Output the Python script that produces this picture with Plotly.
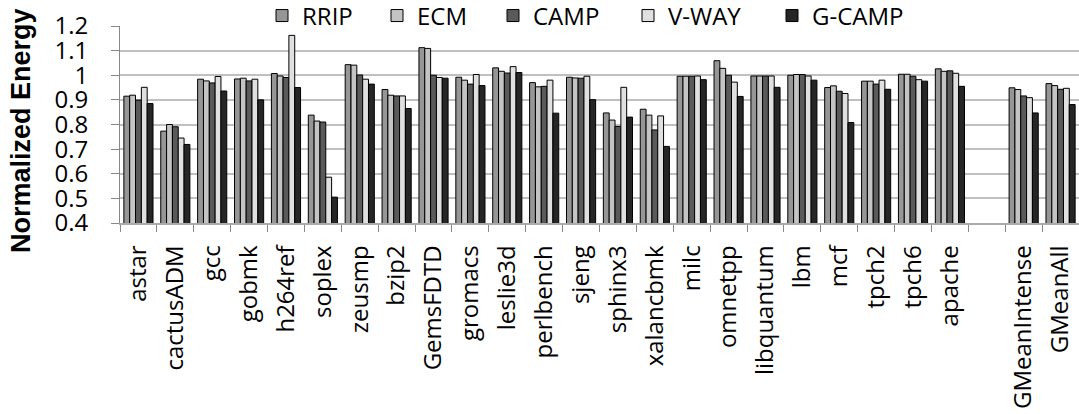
import plotly.graph_objects as go

categories = ["astar", "cactusADM", "gcc", "gobmk", "h264ref", "soplex", "zeusmp", "bzip2",
              "GemsFDTD", "gromacs", "leslie3d", "perlbench", "sjeng", "sphinx3", "xalancbmk",
              "milc", "omnetpp", "libquantum", "lbm", "mcf", "tpch2", "tpch6", "apache", " ",
              "GMeanIntense", "GMeanAll"]

rrip  = [0.915, 0.773, 0.984, 0.985, 1.007, 0.838, 1.043, 0.942, 1.112, 0.992, 1.030, 0.970, 0.992,
         0.847, 0.862, 0.996, 1.059, 0.997, 1.000, 0.950, 0.976, 1.004, 1.026, None, 0.949, 0.966]
ecm   = [0.919, 0.800, 0.977, 0.988, 0.997, 0.814, 1.041, 0.919, 1.109, 0.980, 1.016, 0.953, 0.989,
         0.818, 0.838, 0.996, 1.028, 0.997, 1.003, 0.957, 0.976, 1.004, 1.016, None, 0.942, 0.958]
camp  = [0.899, 0.791, 0.969, 0.977, 0.991, 0.810, 1.001, 0.916, 1.000, 0.964, 1.009, 0.955, 0.988,
         0.792, 0.778, 0.996, 1.000, 0.997, 1.003, 0.935, 0.964, 0.996, 1.018, None, 0.916, 0.943]
vway  = [0.951, 0.745, 0.995, 0.984, 1.162, 0.586, 0.984, 0.916, 0.991, 1.003, 1.035, 0.980, 0.996,
         0.951, 0.835, 0.997, 0.972, 0.997, 0.997, 0.926, 0.980, 0.982, 1.008, None, 0.909, 0.947]
gcamp = [0.885, 0.719, 0.936, 0.900, 0.950, 0.505, 0.964, 0.865, 0.988, 0.958, 1.011, 0.846, 0.901,
         0.830, 0.711, 0.982, 0.914, 0.951, 0.980, 0.808, 0.943, 0.976, 0.955, None, 0.847, 0.881]

series_names = ["RRIP", "ECM", "CAMP", "V-WAY", "G-CAMP"]
series_values = [rrip, ecm, camp, vway, gcamp]
series_colors = ["#969696", "#c4c4c4", "#5a5a5a", "#e0e0e0", "#262626"]
legend_left_px = [262, 377, 493, 628, 772]

FONT = "Open Sans, Noto Sans, sans-serif"
L, T, W, H = 120, 26, 959, 197

fig = go.Figure()
legend_layout = {}
for i, (name, vals, col) in enumerate(zip(series_names, series_values, series_colors)):
    key = "legend" if i == 0 else f"legend{i + 1}"
    fig.add_trace(go.Bar(x=categories, y=vals, name=name, marker_color=col,
                         marker_line_color="black", marker_line_width=1, legend=key))
    legend_layout[key] = dict(orientation="h", x=(legend_left_px[i] - L) / W, xanchor="left",
                              y=1.051, yanchor="middle", font=dict(size=24, family=FONT),
                              itemwidth=30, bgcolor="rgba(0,0,0,0)")

fig.update_layout(
    width=1079, height=414,
    margin=dict(l=L, r=1079 - L - W, t=T, b=414 - T - H, autoexpand=False),
    plot_bgcolor="white", paper_bgcolor="white",
    barmode="group", bargap=0.21, bargroupgap=0,
    font=dict(family=FONT, color="black"),
    showlegend=True,
    **legend_layout,
)
fig.update_yaxes(range=[0.4, 1.2], tickvals=[0.4, 0.5, 0.6, 0.7, 0.8, 0.9, 1.0, 1.1, 1.2],
                 ticktext=["0.4", "0.5", "0.6", "0.7", "0.8", "0.9", "1", "1.1", "1.2"],
                 showgrid=True, gridcolor="#c0c0c0", gridwidth=1.5,
                 showline=True, linecolor="#888888", linewidth=1,
                 ticks="outside", ticklen=8, tickcolor="#888888", ticklabelstandoff=18,
                 tickfont=dict(size=24, family=FONT),
                 automargin=False, zeroline=False)
fig.update_xaxes(type="category", tickangle=-90, tickfont=dict(size=24, family=FONT),
                 ticks="outside", tickson="boundaries", ticklen=7, tickcolor="#888888",
                 ticklabelstandoff=11,
                 showline=True, linecolor="#aaaaaa", linewidth=1.5, showgrid=False,
                 automargin=False)

fig.add_annotation(text="<b>Normalized Energy</b>", textangle=-90,
                   xref="paper", yref="paper", x=(21 - L) / W, y=(T + H - 131) / H,
                   xanchor="center", yanchor="middle", showarrow=False,
                   font=dict(size=27, family="Liberation Sans, Arial, sans-serif", color="black"))

fig.write_html("out.html", config={"displayModeBar": False},
               post_script="document.body.style.margin='0';")
